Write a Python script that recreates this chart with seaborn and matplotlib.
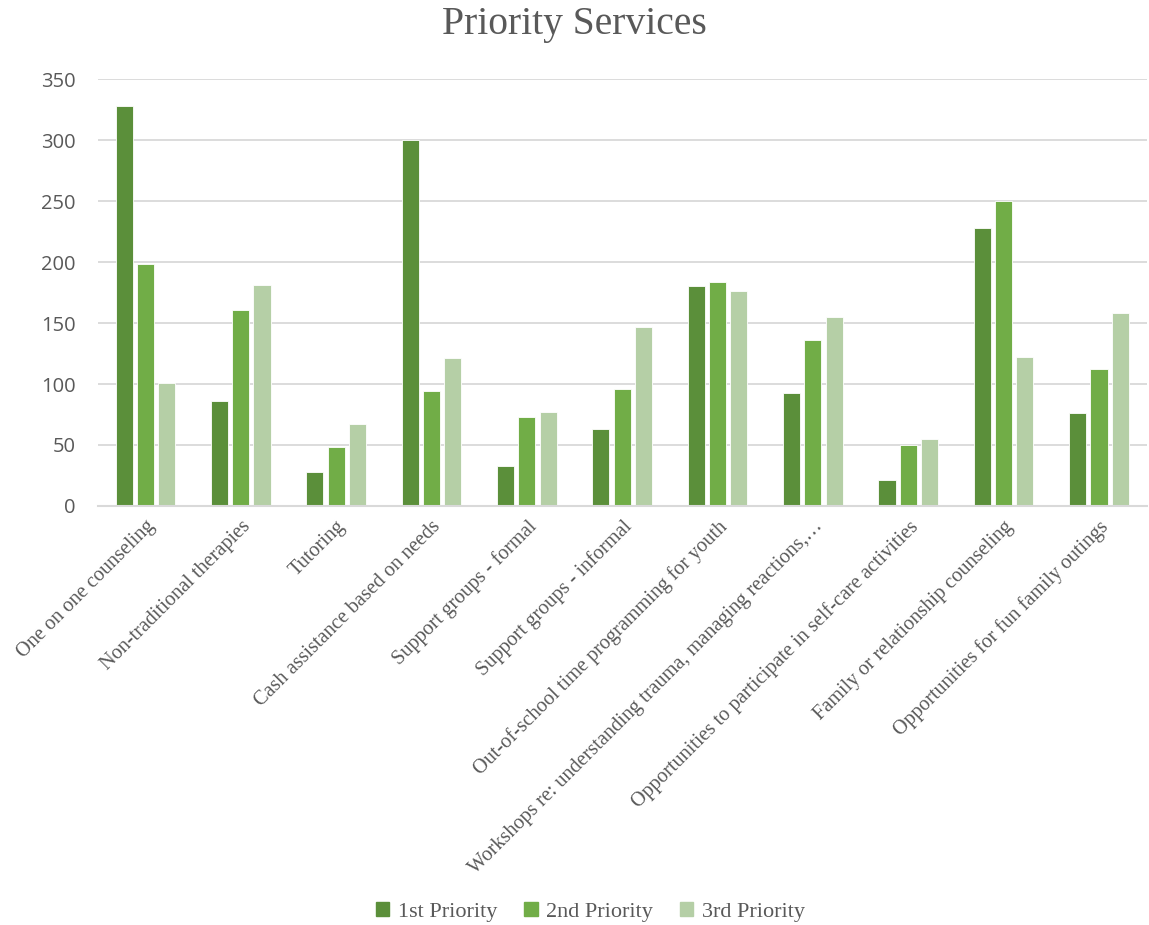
import pandas as pd
import numpy as np
import seaborn as sns
import matplotlib.pyplot as plt

# data
services = [
    "One on one counseling",
    "Non-traditional therapies",
    "Tutoring",
    "Cash assistance based on needs",
    "Support groups - formal",
    "Support groups - informal",
    "Out-of-school time programming for youth",
    "Workshops re: understanding trauma, managing reactions,\u2026",
    "Opportunities to participate in self-care activities",
    "Family or relationship counseling",
    "Opportunities for fun family outings",
]
first_priority = [328, 86, 28, 300, 33, 63, 180, 93, 21, 228, 76]
second_priority = [198, 161, 48, 94, 73, 96, 184, 136, 50, 250, 112]
third_priority = [101, 181, 67, 121, 77, 147, 176, 155, 55, 122, 158]
series_names = ["1st Priority", "2nd Priority", "3rd Priority"]
y_ticks = [0, 50, 100, 150, 200, 250, 300, 350]

colors = ["#5B8F3A", "#71AD47", "#B5CFA6"]
text_col = "#595959"
grid_col = "#D9D9D9"

df = pd.DataFrame({
    "service": services * 3,
    "value": first_priority + second_priority + third_priority,
    "priority": np.repeat(series_names, len(services)),
})

sns.set_style("white")
plt.rcParams["font.family"] = ["Liberation Serif", "DejaVu Serif"]

fig = plt.figure(figsize=(11.49, 9.25), dpi=100)
ax = fig.add_axes([0.085, 0.453, 0.913, 0.4615])

sns.barplot(data=df, x="service", y="value", hue="priority", order=services,
            hue_order=series_names, palette=colors, width=0.67, gap=0.2,
            edgecolor="white", linewidth=0.6, saturation=1, ax=ax)

ax.set_ylim(0, 350)
ax.set_yticks(y_ticks)
ax.set_yticklabels([str(t) for t in y_ticks], family="Open Sans",
                   fontsize=14.5, color=text_col)
ax.yaxis.grid(True, color=grid_col, linewidth=1.3)
ax.set_axisbelow(True)
ax.tick_params(axis="both", length=0)
ax.tick_params(axis="y", pad=16)

ax.set_xticks(range(len(services)))
ax.set_xticklabels(services, rotation=45, ha="right", rotation_mode="anchor",
                   fontsize=14.6, color=text_col)
ax.tick_params(axis="x", pad=8)

for side in ["top", "right", "left"]:
    ax.spines[side].set_visible(False)
ax.spines["bottom"].set_color(grid_col)
ax.spines["bottom"].set_linewidth(1.5)
ax.set_xlabel("")
ax.set_ylabel("")

fig.suptitle("Priority Services", y=0.973, va="center", fontsize=28.5, color=text_col)

ax.get_legend().remove()
handles = [plt.Rectangle((0, 0), 1, 1, color=c) for c in colors]
fig.legend(handles, series_names, loc="center", bbox_to_anchor=(0.514, 0.014),
           ncol=3, frameon=False, fontsize=16, handlelength=0.6, handleheight=0.6,
           handletextpad=0.4, columnspacing=1.2, labelcolor=text_col)

plt.savefig("out.png", dpi=100)
